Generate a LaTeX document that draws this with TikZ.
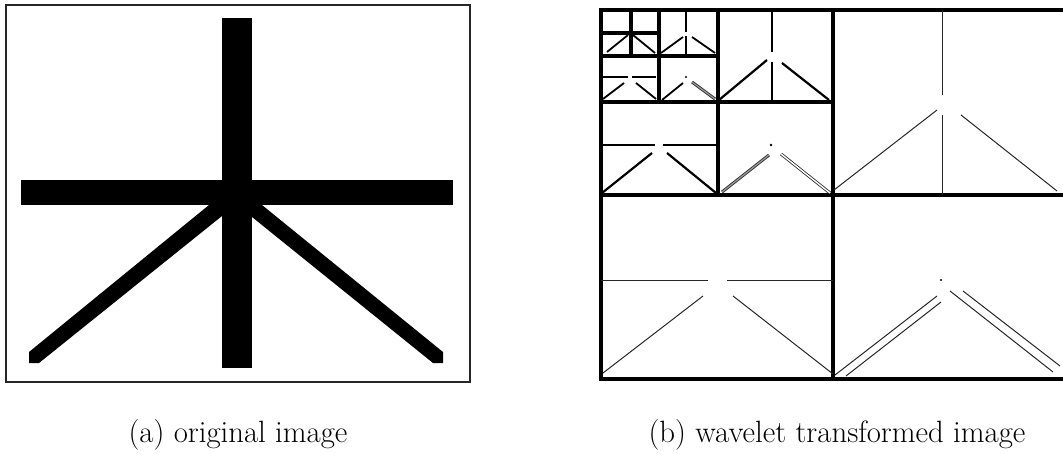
\documentclass[tikz,border=0pt]{standalone}
\usepackage{tikz}
\tikzstyle{imgframe} = [draw=black!85, line width=0.6pt]
\tikzstyle{border} = [line width=2pt]
\tikzstyle{band} = [line width=1.6pt]
\tikzstyle{edgeA} = [line width=0.5pt, black!85]
\tikzstyle{edgeB} = [line width=1.1pt]
\tikzstyle{edgeC} = [line width=0.9pt]
\tikzstyle{pair} = [double, line width=0.4pt, double distance=0.7pt, black!85]
\tikzstyle{hatch} = [double=black!40, line width=0.45pt, double distance=0.6pt, black!80]
\tikzstyle{caption} = [anchor=base, inner sep=0pt, font=\fontsize{15.4}{18}\selectfont]

\begin{document}
\begin{tikzpicture}[x=0.5pt, y=-0.5pt]
    \useasboundingbox (0,0) rectangle (1063,454);

    % Original image
    \draw[imgframe] (6,5) rectangle (470,382);
    \fill (222,18) rectangle (252,368);
    \fill (21,180) rectangle (453,205);
    \fill (209,205) -- (29,352) -- (29,363) -- (39,363) -- (222,216) -- (222,205) -- cycle;
    \fill (262,205) -- (443,352) -- (443,363) -- (433,363) -- (252,217) -- (252,205) -- cycle;

    % Subband grid
    \draw[border] (1063,10) -- (601,10) -- (601,379) -- (1063,379);
    \draw[band] (833,10) -- (833,379);
    \draw[band] (601,195) -- (1063,195);
    \draw[band] (718,10) -- (718,195);
    \draw[band] (601,102) -- (833,102);
    \draw[band] (659,10) -- (659,102);
    \draw[band] (601,56) -- (718,56);
    \draw[band] (631,10) -- (631,56);
    \draw[band] (601,33) -- (659,33);

    % Level 1
    \draw[edgeA] (942,10) -- (942,95);
    \draw[edgeA] (942,115) -- (942,195);
    \draw[edgeA] (937,110) -- (834,190);
    \draw[edgeA] (961,115) -- (1057,191);
    \draw[edgeA] (601,280) -- (708,280);
    \draw[edgeA] (727,280) -- (833,280);
    \draw[edgeA] (703,296) -- (603,373);
    \draw[edgeA] (733,296) -- (833,374);
    \fill (941,280) circle (0.6pt);
    \draw[edgeA] (937,296) -- (835,375);
    \draw[edgeA] (941,302) -- (846,376);
    \draw[edgeA] (950,291) -- (1053,372);
    \draw[edgeA] (963,291) -- (1060,366);

    % Level 2
    \draw[edgeB] (772,10) -- (772,52);
    \draw[edgeB] (772,62) -- (772,102);
    \draw[edgeB] (767,60) -- (719,100);
    \draw[edgeB] (782,63) -- (829,100);
    \draw[edgeC] (601,145) -- (655,145);
    \draw[edgeC] (663,145) -- (718,145);
    \draw[edgeB] (652,153) -- (602,193);
    \draw[edgeB] (667,153) -- (716,193);
    \fill (771,145) circle (0.7pt);
    \draw[hatch] (769,155) -- (722,192);
    \draw[pair] (781,154) -- (830,193);

    % Level 3
    \draw[edgeC] (686,10) -- (686,32);
    \draw[edgeC] (686,36) -- (686,56);
    \draw[edgeC] (683,37) -- (661,53);
    \draw[edgeC] (692,37) -- (715,53);
    \draw[edgeC] (603,77) -- (628,77);
    \draw[edgeC] (632,77) -- (656,77);
    \draw[edgeC] (624,83) -- (603,99);
    \draw[edgeC] (636,83) -- (656,99);
    \fill (686,77) circle (0.6pt);
    \draw[edgeC] (683,83) -- (662,100);
    \draw[hatch] (692,82) -- (715,99);

    % Level 4
    \draw[edgeC] (607,52) -- (628,35);
    \draw[edgeC] (633,35) -- (655,53);

    % Captions
    \node (capa) [caption] at (238,442) {(a) original image};
    \node (capb) [caption] at (837,442) {(b) wavelet transformed image};
\end{tikzpicture}
\end{document}
